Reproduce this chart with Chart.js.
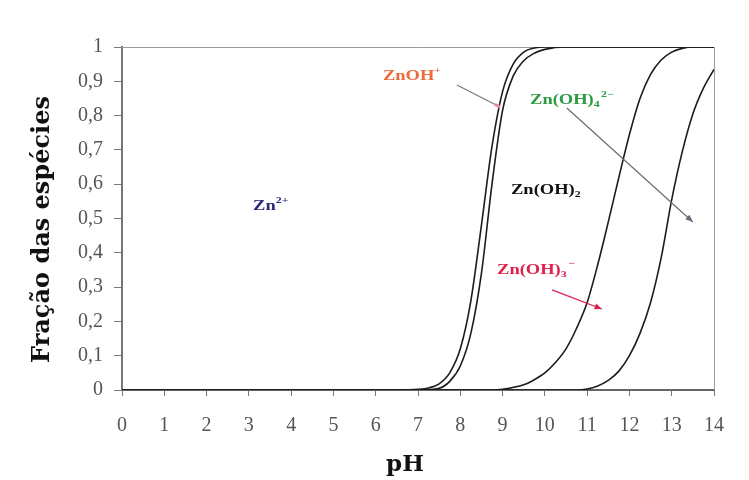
<!DOCTYPE html>
<html>
<head>
<meta charset="utf-8">
<script src="https://cdn.jsdelivr.net/npm/chart.js@4.4.0/dist/chart.umd.min.js"></script>
<style>
  html, body { margin: 0; padding: 0; background: #fff; }
</style>
</head>
<body>
<canvas id="myChart" width="749" height="480"></canvas>
<script>
// axis ticks
const phTicks = [0, 1, 2, 3, 4, 5, 6, 7, 8, 9, 10, 11, 12, 13, 14];
const fracTicks = [0, 0.1, 0.2, 0.3, 0.4, 0.5, 0.6, 0.7, 0.8, 0.9, 1];

// cumulative species fractions
const curve1Ph = [0, 6.5, 7.0, 7.25, 7.5, 7.75, 8.0, 8.25, 8.5, 8.75, 9.0, 9.25, 9.5, 9.75, 10, 14];
const curve1Frac = [0, 0, 0.002, 0.006, 0.018, 0.05, 0.12, 0.26, 0.48, 0.71, 0.87, 0.95, 0.985, 0.997, 1, 1];

const curve2Ph = [0, 7.0, 7.5, 7.75, 8.0, 8.25, 8.5, 8.75, 9.0, 9.25, 9.5, 9.75, 10, 10.5, 14];
const curve2Frac = [0, 0, 0.005, 0.025, 0.07, 0.165, 0.34, 0.6, 0.815, 0.915, 0.96, 0.982, 0.993, 1, 1];

const curve3Ph = [0, 8.75, 9.0, 9.5, 9.75, 10.0, 10.25, 10.5, 10.75, 11.0, 11.25, 11.5, 11.75, 12.0, 12.25, 12.5, 12.75, 13.0, 13.25, 13.5, 14];
const curve3Frac = [0, 0, 0.002, 0.015, 0.03, 0.05, 0.08, 0.12, 0.18, 0.255, 0.365, 0.49, 0.62, 0.745, 0.85, 0.92, 0.962, 0.985, 0.996, 1, 1];

const curve4Ph = [0, 10.75, 11.0, 11.25, 11.5, 11.75, 12.0, 12.25, 12.5, 12.75, 13.0, 13.25, 13.5, 13.75, 14];
const curve4Frac = [0, 0, 0.003, 0.012, 0.028, 0.055, 0.1, 0.165, 0.255, 0.385, 0.555, 0.695, 0.805, 0.88, 0.935];

// species labels: text parts (0 normal, 1 sub, -1 sup), anchor in data units
const speciesLabels = [
  { parts: [["Zn", 0], ["2+", -1]], ph: 3.1, frac: 0.534, color: "#2b2a78" },
  { parts: [["ZnOH", 0], ["+", -1]], ph: 6.17, frac: 0.915, color: "#ee6a3c" },
  { parts: [["Zn(OH)", 0], ["4", 1], ["2\u2212", -1]], ph: 9.65, frac: 0.845, color: "#2e9a44" },
  { parts: [["Zn(OH)", 0], ["2", 1]], ph: 9.2, frac: 0.583, color: "#111111" },
  { parts: [["Zn(OH)", 0], ["3", 1], ["\u2212", -1]], ph: 8.87, frac: 0.35, color: "#e0214e" }
];

const pointers = [
  { from: [7.92, 0.889], to: [8.94, 0.825], color: "#7a7a7a", head: false },
  { from: [10.52, 0.822], to: [13.5, 0.49], color: "#6a6a78", head: true },
  { from: [10.17, 0.292], to: [11.35, 0.236], color: "#d8204a", head: true }
];

const curves = [
  [curve1Ph, curve1Frac],
  [curve2Ph, curve2Frac],
  [curve3Ph, curve3Frac],
  [curve4Ph, curve4Frac]
];

function drawRich(ctx, parts, x, y, color, size, sx) {
  ctx.save();
  ctx.translate(x, y);
  ctx.scale(sx, 1);
  ctx.fillStyle = color;
  ctx.textBaseline = "middle";
  ctx.textAlign = "left";
  let cx = 0;
  parts.forEach(([t, pos]) => {
    const fs = pos === 0 ? size : Math.round(size * 0.62);
    ctx.font = "bold " + fs + "px 'Liberation Serif'";
    const dy = pos === 1 ? size * 0.32 : pos === -1 ? -size * 0.42 : 0;
    ctx.fillText(t, cx, dy);
    cx += ctx.measureText(t).width + (pos === 0 ? 0 : 1);
  });
  ctx.restore();
}

const framePlugin = {
  id: "frame",
  beforeDatasetsDraw(chart) {
    const { ctx, chartArea } = chart;
    ctx.save();
    ctx.strokeStyle = "#9a9a9a";
    ctx.lineWidth = 1;
    ctx.beginPath();
    ctx.moveTo(chartArea.left, chartArea.top + 0.5);
    ctx.lineTo(chartArea.right + 0.5, chartArea.top + 0.5);
    ctx.lineTo(chartArea.right + 0.5, chartArea.bottom);
    ctx.stroke();
    ctx.restore();
  }
};

const notesPlugin = {
  id: "notes",
  afterDatasetsDraw(chart) {
    const { ctx, scales } = chart;
    const sx = scales.x, sy = scales.y;

    pointers.forEach(p => {
      const x1 = sx.getPixelForValue(p.from[0]), y1 = sy.getPixelForValue(p.from[1]);
      const x2 = sx.getPixelForValue(p.to[0]), y2 = sy.getPixelForValue(p.to[1]);
      ctx.save();
      ctx.strokeStyle = p.color;
      ctx.fillStyle = p.color;
      ctx.lineWidth = 1.2;
      ctx.beginPath();
      ctx.moveTo(x1, y1);
      ctx.lineTo(x2, y2);
      ctx.stroke();
      if (p.head) {
        const a = Math.atan2(y2 - y1, x2 - x1);
        ctx.beginPath();
        ctx.moveTo(x2, y2);
        ctx.lineTo(x2 - 8 * Math.cos(a - 0.4), y2 - 8 * Math.sin(a - 0.4));
        ctx.lineTo(x2 - 8 * Math.cos(a + 0.4), y2 - 8 * Math.sin(a + 0.4));
        ctx.closePath();
        ctx.fill();
      } else {
        ctx.strokeStyle = "#e88aa0";
        ctx.lineWidth = 3;
        ctx.beginPath();
        ctx.moveTo(x2 - (x2 - x1) * 0.12, y2 - (y2 - y1) * 0.12);
        ctx.lineTo(x2, y2);
        ctx.stroke();
      }
      ctx.restore();
    });

    speciesLabels.forEach(l => {
      drawRich(ctx, l.parts, sx.getPixelForValue(l.ph), sy.getPixelForValue(l.frac), l.color, 14, 1.32);
    });

    // axis titles
    ctx.save();
    ctx.fillStyle = "#111";
    ctx.textAlign = "center";
    ctx.textBaseline = "middle";
    ctx.font = "bold 23px 'DejaVu Serif'";
    ctx.fillText("pH", (sx.left + sx.right) / 2 - 13, sx.bottom - 15);
    ctx.font = "bold 24px 'DejaVu Serif'";
    ctx.translate(sy.left + 43, (sy.top + sy.bottom) / 2 + 11);
    ctx.rotate(-Math.PI / 2);
    ctx.fillText("Fração das espécies", 0, 0);
    ctx.restore();
  }
};

const ctx = document.getElementById("myChart").getContext("2d");
const myChart = new Chart(ctx, {
  type: "line",
  data: {
    datasets: curves.map(([ph, frac]) => ({
      data: ph.map((p, i) => ({ x: p, y: frac[i] })),
      borderColor: "#1c1c1c",
      borderWidth: 1.6,
      pointRadius: 0,
      cubicInterpolationMode: "monotone",
      fill: false
    }))
  },
  options: {
    responsive: false,
    animation: false,
    layout: { autoPadding: false, padding: { left: 0, top: 47, right: 35, bottom: 0 } },
    plugins: { legend: { display: false }, tooltip: { enabled: false } },
    scales: {
      x: {
        type: "linear",
        min: 0,
        max: 14,
        afterBuildTicks: s => { s.ticks = phTicks.map(v => ({ value: v })); },
        afterFit: s => { s.height = 90; },
        ticks: {
          color: "#555",
          padding: 18,
          maxRotation: 0,
          autoSkip: false,
          font: { family: "'Liberation Serif'", size: 20 }
        },
        grid: { drawOnChartArea: false, tickLength: 6, color: "#777" },
        border: { color: "#666", width: 2 }
      },
      y: {
        type: "linear",
        min: 0,
        max: 1,
        afterBuildTicks: s => { s.ticks = fracTicks.map(v => ({ value: v })); },
        afterFit: s => { s.width = 122; },
        ticks: {
          color: "#555",
          padding: 11,
          autoSkip: false,
          font: { family: "'Liberation Serif'", size: 20 },
          callback: v => String(v).replace(".", ",")
        },
        grid: { drawOnChartArea: false, tickLength: 8, color: "#777" },
        border: { color: "#777", width: 2 }
      }
    }
  },
  plugins: [framePlugin, notesPlugin]
});
</script>
</body>
</html>
